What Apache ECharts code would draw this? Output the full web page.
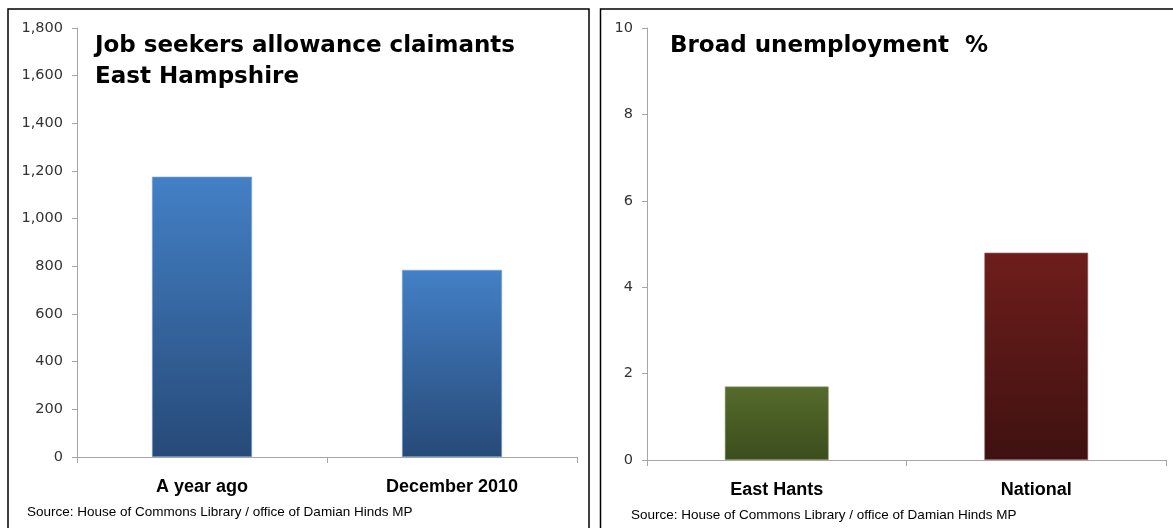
<!DOCTYPE html>
<html>
<head>
<meta charset="utf-8">
<script src="https://cdn.jsdelivr.net/npm/echarts@6/dist/echarts.min.js"></script>
<style>
html,body{margin:0;padding:0;background:#fff;}
#chart{width:1173px;height:528px;}
</style>
</head>
<body>
<div id="chart"></div>
<script>
// Data
var jsaCategories = ['A year ago', 'December 2010'];
var jsaValues = [1176, 785];
var unempCategories = ['East Hants', 'National'];
var unempValues = [1.7, 4.8];
var leftTitle = 'Job seekers allowance claimants\nEast Hampshire';
var rightTitle = 'Broad unemployment  %';
var sourceText = 'Source: House of Commons Library / office of Damian Hinds MP';

function grad(top, bottom) {
  return new echarts.graphic.LinearGradient(0, 0, 0, 1, [
    {offset: 0, color: top}, {offset: 1, color: bottom}
  ]);
}
var blue = grad('#4380c6', '#274a78');
var green = grad('#556b2b', '#3c4d1d');
var red = grad('#6e1e1c', '#3e1110');

var chart = echarts.init(document.getElementById('chart'), null, {renderer: 'canvas'});

var axisLineStyle = {color: '#a6a6a6', width: 1};
function yAxisCfg(gridIndex, max, interval, fmt) {
  return {
    type: 'value', gridIndex: gridIndex, min: 0, max: max, interval: interval,
    axisLine: {show: true, lineStyle: axisLineStyle},
    axisTick: {show: true, length: 5, lineStyle: axisLineStyle},
    splitLine: {show: false},
    axisLabel: {color: '#333', fontFamily: 'DejaVu Sans', fontSize: 14.5, margin: 14, formatter: fmt}
  };
}
function xAxisCfg(gridIndex, cats) {
  return {
    type: 'category', gridIndex: gridIndex, data: cats,
    axisLine: {show: true, lineStyle: axisLineStyle},
    axisTick: {show: true, length: 6, lineStyle: axisLineStyle},
    axisLabel: {color: '#000', fontFamily: 'Liberation Sans', fontWeight: 'bold', fontSize: 18, margin: 21}
  };
}

chart.setOption({
  animation: false,
  backgroundColor: '#fff',
  grid: [
    {left: 77, right: 596, top: 28, bottom: 71},
    {left: 647, right: 7, top: 28, bottom: 68}
  ],
  xAxis: [xAxisCfg(0, jsaCategories), xAxisCfg(1, unempCategories)],
  yAxis: [
    yAxisCfg(0, 1800, 200, function (v) { return v.toLocaleString('en-US'); }),
    yAxisCfg(1, 10, 2, function (v) { return String(v); })
  ],
  series: [
    {
      type: 'bar', xAxisIndex: 0, yAxisIndex: 0, data: jsaValues, barWidth: '40%',
      itemStyle: {color: blue, borderColor: '#7aa3d6', borderWidth: 0.6}
    },
    {
      type: 'bar', xAxisIndex: 1, yAxisIndex: 1, barWidth: '40%',
      data: [
        {value: unempValues[0], itemStyle: {color: green, borderColor: '#8a9a6a', borderWidth: 0.6}},
        {value: unempValues[1], itemStyle: {color: red, borderColor: '#a07070', borderWidth: 0.6}}
      ]
    }
  ],
  graphic: [
    {type: 'rect', shape: {x: 8, y: 9, width: 581, height: 540}, style: {fill: 'none', stroke: '#000', lineWidth: 1.5}, z: 10},
    {type: 'rect', shape: {x: 600.5, y: 9, width: 600, height: 540}, style: {fill: 'none', stroke: '#000', lineWidth: 1.5}, z: 10},
    {type: 'text', left: 95, top: 31, style: {text: leftTitle, font: 'bold 23px "DejaVu Sans"', fill: '#000', lineHeight: 31}},
    {type: 'text', left: 670, top: 35, style: {text: rightTitle, font: 'bold 23px "DejaVu Sans"', fill: '#000'}},
    {type: 'text', left: 27, top: 505, style: {text: sourceText, font: '13.5px "Liberation Sans"', fill: '#000'}},
    {type: 'text', left: 631, top: 508, style: {text: sourceText, font: '13.5px "Liberation Sans"', fill: '#000'}}
  ]
});
</script>
</body>
</html>
